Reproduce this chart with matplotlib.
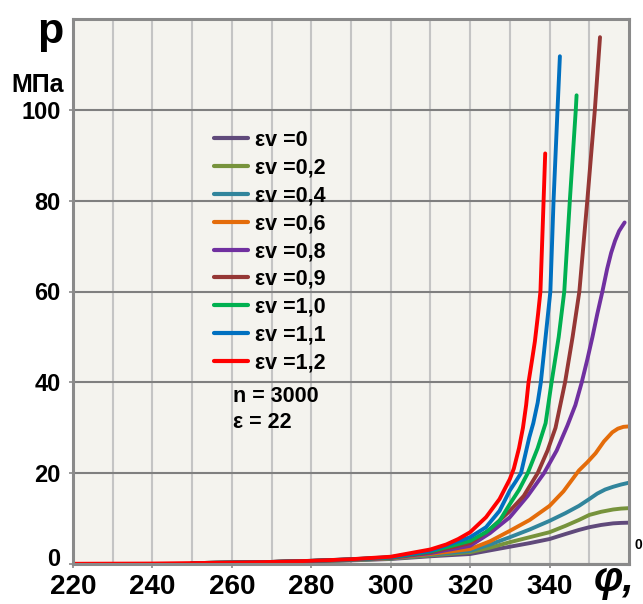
import matplotlib
matplotlib.use("Agg")
import matplotlib.pyplot as plt
import matplotlib.transforms as mtransforms

# data (angle phi, deg -> pressure p, MPa)
labels = ["εv =0", "εv =0,2", "εv =0,4", "εv =0,6", "εv =0,8",
          "εv =0,9", "εv =1,0", "εv =1,1", "εv =1,2"]
colors = ["#604A7B", "#77933C", "#31859C", "#E46C0A", "#7030A0",
          "#953735", "#00B050", "#0070C0", "#FF0000"]

phi_0 = [250, 260, 270, 280, 290, 300, 310, 320, 325, 330, 335, 340, 344, 347.4, 350, 353, 356, 358, 360]
p_0 = [0.2, 0.28, 0.4, 0.55, 0.8, 1.1, 1.7, 2.2, 3.0, 3.8, 4.6, 5.5, 6.6, 7.5, 8.1, 8.6, 8.95, 9.05, 9.1]

phi_02 = [250, 260, 270, 280, 290, 300, 310, 320, 325, 330, 335, 340, 344, 347.4, 350, 353, 356, 358, 360]
p_02 = [0.2, 0.3, 0.42, 0.6, 0.85, 1.2, 1.9, 2.6, 3.6, 4.8, 5.9, 7.0, 8.4, 9.7, 10.8, 11.5, 12.0, 12.2, 12.3]

phi_04 = [250, 260, 270, 280, 290, 300, 310, 320, 325, 330, 335, 340, 344, 347.4, 350, 352, 354, 356, 358, 360]
p_04 = [0.2, 0.3, 0.43, 0.62, 0.9, 1.25, 2.05, 2.9, 4.3, 5.9, 7.6, 9.5, 11.2, 12.8, 14.3, 15.5, 16.4, 17.0, 17.5, 17.9]

phi_06 = [250, 260, 270, 280, 290, 300, 310, 320, 325, 330, 335, 340, 343.5, 347.4, 349.5,
          351.6, 353.7, 355.8, 357.2, 358.6, 360]
p_06 = [0.2, 0.3, 0.45, 0.65, 0.95, 1.3, 2.2, 3.3, 5.0, 7.3, 9.7, 12.8, 16.0, 20.6, 22.4,
        24.4, 27.0, 29.0, 29.8, 30.2, 30.3]

phi_08 = [250, 260, 270, 280, 290, 300, 310, 320, 325, 330, 334.5, 338.6, 341.8, 344.5, 346.5,
          348.1, 349.5, 350.8, 352, 353.3, 354.5, 355.5, 356.5, 357.5, 358.3, 358.9]
p_08 = [0.2, 0.3, 0.45, 0.67, 0.97, 1.35, 2.4, 4.0, 6.8, 10.3, 15.0, 20.0, 25.0, 30.5, 35.0,
        40.0, 45.0, 50.0, 55.0, 60.0, 65.0, 68.5, 71.2, 73.3, 74.4, 75.2]

phi_09 = [250, 260, 270, 280, 290, 300, 310, 320, 325, 330, 333.5, 337, 339.5, 341.5, 343.9,
          345.8, 347.5, 349.5, 351.4, 352.7]
p_09 = [0.2, 0.3, 0.45, 0.68, 1.0, 1.4, 2.6, 4.6, 7.6, 11.7, 15.0, 20.0, 25.0, 30.0, 40.0,
        50.0, 60.0, 80.0, 100.0, 116.0]

phi_10 = [250, 260, 270, 280, 290, 300, 310, 320, 324, 327.4, 330, 332.3, 334.5, 337, 339, 340.5,
          342.3, 343.7, 345.1, 346.6, 346.8]
p_10 = [0.2, 0.3, 0.45, 0.69, 1.02, 1.45, 2.75, 5.1, 7.0, 9.5, 13.2, 16.3, 20.0, 25.5, 31.0, 40.0,
        50.0, 60.0, 80.0, 100.0, 103.2]

phi_11 = [250, 260, 270, 280, 290, 300, 310, 320, 324, 327.4, 330, 331.5, 332.8, 334.9, 335.9,
          337, 337.8, 339, 340.2, 341, 342, 342.6]
p_11 = [0.2, 0.3, 0.45, 0.7, 1.04, 1.5, 2.9, 5.9, 8.1, 11.7, 16.2, 18.2, 20.0, 27.9, 31.0,
        35.5, 40.0, 50.0, 60.0, 80.0, 100.0, 111.8]

phi_12 = [220, 240, 250, 260, 270, 280, 290, 300, 310, 314, 317, 320, 324, 327.4, 330, 331,
          332.3, 333.3, 334.1, 334.7, 335.6, 336.3, 337.1, 337.7, 338.3, 338.9]
p_12 = [0.05, 0.1, 0.2, 0.3, 0.45, 0.7, 1.05, 1.6, 3.2, 4.3, 5.5, 7.0, 10.3, 14.3, 18.7, 21.0,
        25.5, 30.0, 35.0, 40.0, 45.0, 49.0, 55.0, 60.0, 75.0, 90.4]

series_phi = [phi_0, phi_02, phi_04, phi_06, phi_08, phi_09, phi_10, phi_11, phi_12]
series_p = [p_0, p_02, p_04, p_06, p_08, p_09, p_10, p_11, p_12]

x_ticks = [220, 240, 260, 280, 300, 320, 340]
y_ticks = [0, 20, 40, 60, 80, 100]

plt.rcParams['font.family'] = ['Liberation Sans', 'DejaVu Sans']
plt.rcParams['font.weight'] = 'bold'

fig = plt.figure(figsize=(6.43, 6.04), dpi=100)
ax = fig.add_axes([73 / 643, 1 - 564 / 604, 556 / 643, 545 / 604])
ax.set_facecolor("#F4F3EE")

for phi, p, c, lab in zip(series_phi, series_p, colors, labels):
    ax.plot(phi, p, color=c, lw=2.8, label=lab, solid_capstyle='round',
            solid_joinstyle='round')

ax.set_xlim(220, 360)
ax.set_ylim(0, 120)
ax.set_xticks(x_ticks)
ax.set_yticks(y_ticks)
ax.set_xticks(range(230, 360, 20), minor=True)
ax.grid(axis='x', which='both', color="#C4C4C4", lw=1.5)
ax.grid(axis='y', which='major', color="#7F7F7F", lw=1.5)
ax.set_axisbelow(True)
for s in ax.spines.values():
    s.set_color("#8A8A8A")
    s.set_linewidth(2.2)
ax.tick_params(axis='both', which='major', color="#8A8A8A", length=3, width=1.2)
ax.tick_params(axis='x', which='minor', length=0)
ax.tick_params(axis='x', labelsize=20, pad=4)
ax.tick_params(axis='y', labelsize=17, pad=6)
for t in ax.get_xticklabels() + ax.get_yticklabels():
    t.set_fontweight('bold')
    t.set_family(['Liberation Sans Narrow', 'Liberation Sans'])
# the "0" on the y axis sits a little higher, clear of the x labels
y0 = ax.get_yticklabels()[0]
y0.set_transform(y0.get_transform() + mtransforms.ScaledTranslation(0, 7 / 100, fig.dpi_scale_trans))

leg = ax.legend(loc='upper left', bbox_to_anchor=((214 - 73) / 556, (564 - 130) / 545),
                frameon=False, fontsize=15.5, handlelength=1.6, handletextpad=0.3,
                labelspacing=0.315, borderpad=0, borderaxespad=0)
for ln in leg.get_lines():
    ln.set_linewidth(3)
for t in leg.get_texts():
    t.set_fontweight('bold')

ax.text((233 - 73) / 556, (564 - 402) / 545, "n = 3000", transform=ax.transAxes,
        fontsize=15.5, fontweight='bold', va='baseline')
ax.text((233 - 73) / 556, (564 - 428) / 545, "ε = 22", transform=ax.transAxes,
        fontsize=15.5, fontweight='bold', va='baseline')

fig.text(50 / 643, 1 - 43 / 604, "p", fontsize=31, fontweight='bold',
         ha='center', va='baseline')
fig.text(38 / 643, 1 - 92 / 604, "МПа", fontsize=18, fontweight='bold',
         ha='center', va='baseline', family=['Liberation Sans Narrow', 'Liberation Sans'])
fig.text(614 / 643, 1 - 591 / 604, "φ,", fontsize=30, fontweight='bold',
         style='italic', ha='center', va='baseline')
fig.text(638 / 643, 1 - 549 / 604, "0", fontsize=10, fontweight='bold',
         ha='center', va='baseline')

fig.savefig("out.png", dpi=100)
